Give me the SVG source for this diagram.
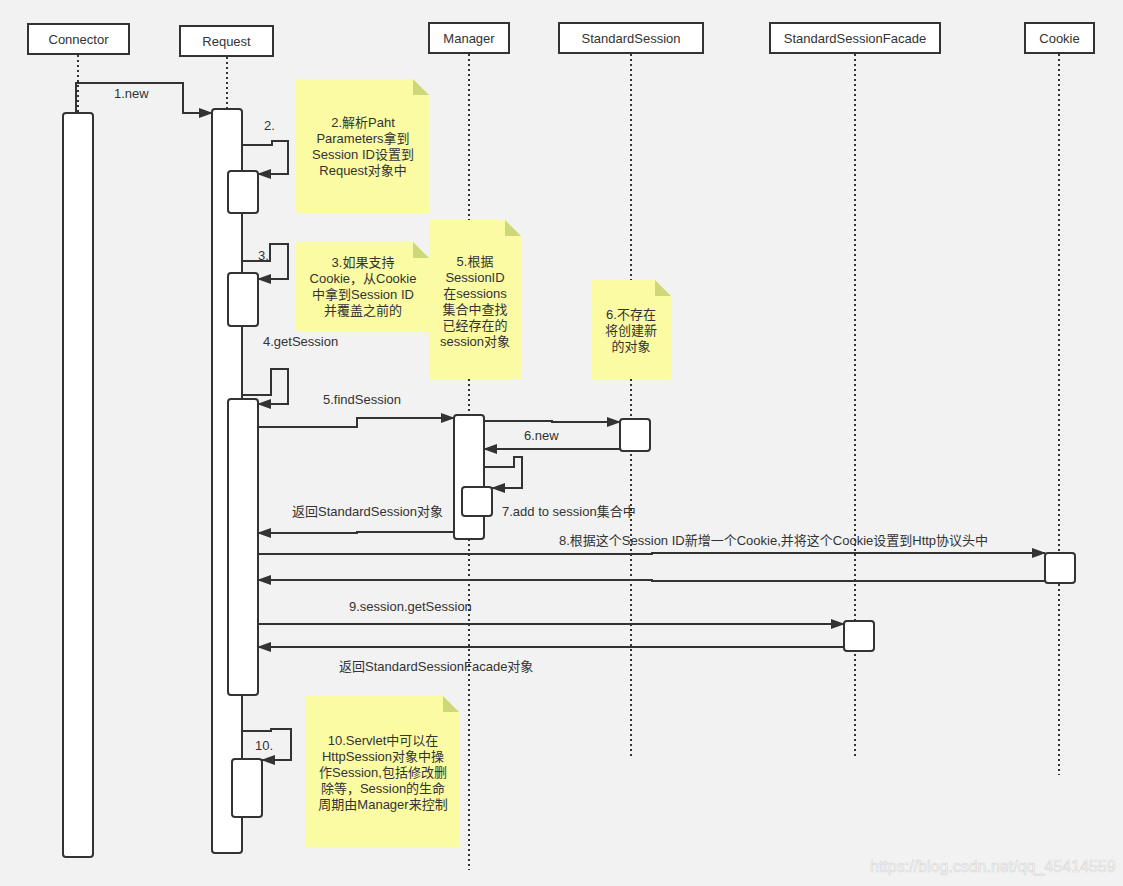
<svg xmlns="http://www.w3.org/2000/svg" width="1123" height="886" viewBox="0 0 1123 886">
<style>
text{font-family:"Liberation Sans","Noto Sans CJK SC",sans-serif;font-size:13px;fill:#333}
.hdr rect{fill:#fff;stroke:#333;stroke-width:2}
.hdr text{text-anchor:middle}
.life{stroke:#333;stroke-width:2;stroke-dasharray:2 3;fill:none}
.act{fill:#fff;stroke:#333;stroke-width:2}
.msg{fill:none;stroke:#333;stroke-width:2;marker-end:url(#ah)}
.note{fill:#fafba3}
.fold{fill:#cfd878}
.nt{text-anchor:middle}
</style>
<defs>
<marker id="ah" markerUnits="userSpaceOnUse" markerWidth="14" markerHeight="10" refX="13" refY="5" orient="auto">
<path d="M0,0 L14,5 L0,10 z" fill="#333"/>
</marker>
</defs>
<rect width="1123" height="886" fill="#f2f2f2"/>

<g id="lifelines">
<line class="life" x1="78" y1="55" x2="78" y2="113"/>
<line class="life" x1="227" y1="57" x2="227" y2="109"/>
<line class="life" x1="469" y1="54" x2="469" y2="870"/>
<line class="life" x1="631" y1="54" x2="631" y2="759"/>
<line class="life" x1="855" y1="54" x2="855" y2="759"/>
<line class="life" x1="1059" y1="54" x2="1059" y2="775"/>
</g>

<g id="Connector" class="hdr"><rect x="28" y="24" width="101" height="30"/><text x="78.5" y="44">Connector</text></g>
<g id="Request" class="hdr"><rect x="180" y="26" width="93" height="30"/><text x="226.5" y="46">Request</text></g>
<g id="Manager" class="hdr"><rect x="429" y="23" width="80" height="30"/><text x="469" y="43">Manager</text></g>
<g id="StandardSession" class="hdr"><rect x="559" y="23" width="144" height="30"/><text x="631" y="43">StandardSession</text></g>
<g id="StandardSessionFacade" class="hdr"><rect x="770" y="23" width="170" height="30"/><text x="855" y="43">StandardSessionFacade</text></g>
<g id="Cookie" class="hdr"><rect x="1025" y="23" width="69" height="30"/><text x="1059.5" y="43">Cookie</text></g>

<g id="activations">
<rect class="act" x="63" y="113" width="30" height="744" rx="3"/>
<rect class="act" x="212" y="109" width="30" height="744" rx="3"/>
<rect class="act" x="228" y="171" width="30" height="42" rx="3"/>
<rect class="act" x="228" y="273" width="30" height="53" rx="3"/>
<rect class="act" x="228" y="399" width="30" height="296" rx="3"/>
<rect class="act" x="232" y="759" width="30" height="58" rx="3"/>
<rect class="act" x="454" y="415" width="30" height="124" rx="3"/>
<rect class="act" x="462" y="487" width="30" height="29" rx="3"/>
<rect class="act" x="620" y="419" width="30" height="32" rx="3"/>
<rect class="act" x="1045" y="553" width="30" height="30" rx="3"/>
<rect class="act" x="844" y="621" width="30" height="30" rx="3"/>
</g>

<g id="connectors">
<path class="msg" d="M76,113 V83 H183 V113 H212"/>
<text x="114" y="98">1.new</text>
<path class="msg" d="M242,145 H272 V141 H288 V174 H258"/>
<text x="264" y="130">2.</text>
<path class="msg" d="M242,261 H270 V244 H288 V279 H258"/>
<text x="258" y="260">3.</text>
<text x="263" y="346">4.getSession</text>
<path class="msg" d="M242,395 H271 V369 H288 V404 H258"/>
<path class="msg" d="M258,427 H357 V418 H454"/>
<text x="323" y="404">5.findSession</text>
<path class="msg" d="M484,421 H552 V422 H620"/>
<path class="msg" d="M620,449 H484"/>
<text x="524" y="440">6.new</text>
<path class="msg" d="M484,467 H514 V457 H522 V488 H492"/>
<text x="502" y="516">7.add to session集合中</text>
<path class="msg" d="M454,532 H357 V533 H258"/>
<text x="292" y="516">返回StandardSession对象</text>
<path class="msg" d="M258,554 H652 V553 H1045"/>
<text x="559" y="545">8.根据这个Session ID新增一个Cookie,并将这个Cookie设置到Http协议头中</text>
<path class="msg" d="M1045,581 H652 V580 H258"/>
<path class="msg" d="M258,624 H844"/>
<text x="349" y="611">9.session.getSession</text>
<path class="msg" d="M844,647 H258"/>
<text x="339" y="671">返回StandardSessionFacade对象</text>
<path class="msg" d="M242,731 H271 V729 H291 V760 H262"/>
<text x="255" y="750">10.</text>
</g>

<g id="note2">
<path class="note" d="M296,79 H413 L429,95 V213 H296 Z"/>
<path class="fold" d="M413,79 L429,95 H413 Z"/>
<text class="nt" x="363" y="127">2.解析Paht</text>
<text class="nt" x="363" y="143">Parameters拿到</text>
<text class="nt" x="363" y="159">Session ID设置到</text>
<text class="nt" x="363" y="175">Request对象中</text>
</g>
<g id="note3">
<path class="note" d="M296,242 H413 L429,258 V331 H296 Z"/>
<path class="fold" d="M413,242 L429,258 H413 Z"/>
<text class="nt" x="363" y="267">3.如果支持</text>
<text class="nt" x="363" y="283">Cookie，从Cookie</text>
<text class="nt" x="363" y="299">中拿到Session ID</text>
<text class="nt" x="363" y="315">并覆盖之前的</text>
</g>
<g id="note5">
<path class="note" d="M429,220 H505 L521,236 V379 H429 Z"/>
<path class="fold" d="M505,220 L521,236 H505 Z"/>
<text class="nt" x="475" y="266">5.根据</text>
<text class="nt" x="475" y="282">SessionID</text>
<text class="nt" x="475" y="298">在sessions</text>
<text class="nt" x="475" y="314">集合中查找</text>
<text class="nt" x="475" y="330">已经存在的</text>
<text class="nt" x="475" y="346">session对象</text>
</g>
<g id="note6">
<path class="note" d="M592,280 H655 L671,296 V379 H592 Z"/>
<path class="fold" d="M655,280 L671,296 H655 Z"/>
<text class="nt" x="631" y="319">6.不存在</text>
<text class="nt" x="631" y="335">将创建新</text>
<text class="nt" x="631" y="351">的对象</text>
</g>
<g id="note10">
<path class="note" d="M306,696 H443 L459,712 V847 H306 Z"/>
<path class="fold" d="M443,696 L459,712 H443 Z"/>
<text class="nt" x="383" y="745">10.Servlet中可以在</text>
<text class="nt" x="383" y="761">HttpSession对象中操</text>
<text class="nt" x="383" y="777">作Session,包括修改删</text>
<text class="nt" x="383" y="793">除等，Session的生命</text>
<text class="nt" x="383" y="809">周期由Manager来控制</text>
</g>

<text x="870" y="872" style="font-size:16px;fill:#fafafa;stroke:#d6d6d6;stroke-width:0.6">https://blog.csdn.net/qq_45414559</text>
</svg>
